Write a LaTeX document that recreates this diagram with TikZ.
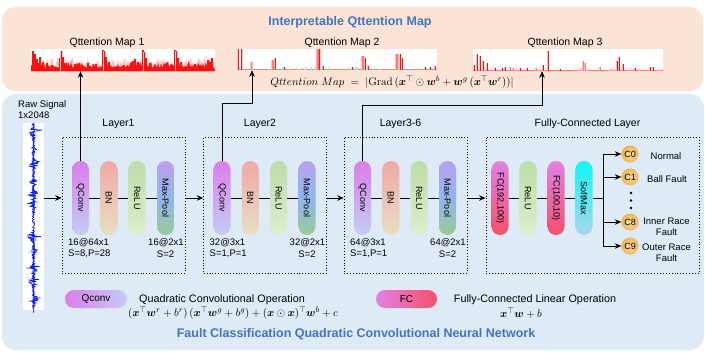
\documentclass[tikz,border=0pt]{standalone}
\usepackage[no-math]{fontspec}
\setmainfont{Liberation Sans}
\usepackage{amsmath,bm}
\usetikzlibrary{arrows.meta,shapes.misc}
\definecolor{orangebg}{HTML}{FBE4D5}
\definecolor{bluebg}{HTML}{DEEAF6}
\definecolor{titleblue}{HTML}{4472C4}
\definecolor{qtop}{HTML}{DA7EEA}
\definecolor{qbot}{HTML}{C6CCF6}
\definecolor{bntop}{HTML}{F0A8A6}
\definecolor{bnbot}{HTML}{E8DEC3}
\definecolor{rltop}{HTML}{BEDCA8}
\definecolor{rlbot}{HTML}{DFEDCC}
\definecolor{mptop}{HTML}{BB9FF0}
\definecolor{mpmid}{HTML}{8FB6EC}
\definecolor{mpbot}{HTML}{9ACB98}
\definecolor{fctop}{HTML}{DE82E4}
\definecolor{fcbot}{HTML}{F4506A}
\definecolor{smtop}{HTML}{12F6F6}
\definecolor{smbot}{HTML}{A8D6EE}
\definecolor{cin}{HTML}{FBE0A8}
\definecolor{cout}{HTML}{F0B454}
\definecolor{sigblue}{HTML}{0A1EF0}
\definecolor{mapred}{HTML}{FF1010}
\definecolor{mappink}{HTML}{FF7A7A}
\definecolor{mappale}{HTML}{FFC0C0}
\begin{document}
\begin{tikzpicture}[x=1pt,y=-1pt,font=\fontsize{9.5}{11}\selectfont,
  conn/.style={line width=0.9pt},
  arr/.style={line width=0.9pt,-{Stealth[length=6.5pt,width=5.5pt]}},
  pill/.style={rounded corners=8.5pt,minimum width=17pt,minimum height=74pt,inner sep=0pt},
  pilltext/.style={rotate=-90,font=\fontsize{9}{10}\selectfont},
  qcs/.style={pill,top color=qtop,bottom color=qbot},
  bns/.style={pill,top color=bntop,bottom color=bnbot},
  rls/.style={pill,top color=rltop,bottom color=rlbot},
  mps/.style={pill,top color=mptop,bottom color=mpbot,middle color=mpmid},
  fcs/.style={pill,top color=fctop,bottom color=fcbot},
  sms/.style={pill,top color=smtop,bottom color=smbot},
  layerbox/.style={draw,dotted,line width=0.9pt,inner sep=0pt,minimum height=136pt},
  maptitle/.style={font=\fontsize{10.5}{12}\selectfont},
  legtext/.style={font=\fontsize{10.8}{12}\selectfont,inner sep=1pt},
  mapbox/.style={fill=white,inner sep=0pt},
  circ/.style={circle,inner sep=0pt,minimum size=17pt,shading=radial,inner color=cin,outer color=cout,font=\fontsize{9}{10}\selectfont},
  bigtitle/.style={text=titleblue,font=\fontsize{12.5}{14}\selectfont\bfseries},
]
\useasboundingbox (0,0) rectangle (706,353);
% panels
\fill[orangebg,rounded corners=13pt] (2,7) rectangle (703,91);
\fill[bluebg,rounded corners=14pt] (2,94) rectangle (704,350);
\node[bigtitle] (t1) at (350,22) {Interpretable Qttention Map};
\node[bigtitle] (t2) at (356,334) {Fault Classification Quadratic Convolutional Neural Network};

% attention maps
\pgfmathsetseed{7}
\node[mapbox,minimum width=184pt,minimum height=22pt] (map1) at (123,60) {};
\node[mapbox,minimum width=200pt,minimum height=21pt] (map2) at (337,59.5) {};
\node[mapbox,minimum width=190pt,minimum height=22pt] (map3) at (568,60) {};
\node[maptitle] (m1t) at (107,43) {Qttention Map 1};
\node[maptitle] (m2t) at (342,43) {Qttention Map 2};
\node[maptitle] (m3t) at (565,43) {Qttention Map 3};
% map 1: dense band with bursts
\fill[mappale] (31,71) \foreach \i in {0,...,183}{ -- ({31+\i},{71-5-9*rnd^2}) } -- (215,71) -- cycle;
\fill[mapred] (31,71) \foreach \i in {0,...,183}{ -- ({31+\i},{71-3.5-6.5*rnd^2}) } -- (215,71) -- cycle;
\foreach \x/\h in {33/20,35/17,37/12,40/14,43/9,47/8,52/6,60/13,61.5/20,63/14,66/8,75/7,88/8,96/7,103/21,104.5/20,106/14,109/9,124/6,133/10,135/12,138/9,143/21,144.5/19,146/13,150/8,165/7,175/21,176.5/20,178/13,181/9,195/7,208/11,210/9,212/13}{
  \fill[mappale] (\x-1.1,71) rectangle ++(2.2,-\h);
  \fill[mapred] (\x-0.55,71) rectangle ++(1.1,-\h);}
% map 2
\fill[mappink] (237,70) rectangle (437,69);
\foreach \i in {1,...,40}{\pgfmathsetmacro\xx{239+196*rnd}\pgfmathsetmacro\hh{1+2*rnd}
  \fill[mappale] (\xx-0.5,70) rectangle ++(1,-\hh);}
\foreach \x in {261,309,333,382,427}
  \fill[gray!70] (\x-0.4,70) rectangle ++(0.8,-1.5);
\foreach \x/\h in {251.7/8,318/21,363/14,397/16,273/10}{
  \fill[mappale] (\x-1.6,70) rectangle ++(3.2,-\h);
  \fill[mappink] (\x-0.6,70) rectangle ++(1.2,-\h);}
\foreach \x/\h in {238/21,241.7/21,275/12,284/3,319.5/21,323/4,352/3,365/12,368/4,400/16,402/12,425/3,430/3,435/4}{
  \fill[mappale] (\x-1,70) rectangle ++(2,-\h);
  \fill[mapred] (\x-0.5,70) rectangle ++(1,-\h);}
% map 3
\fill[mappink] (473,71) rectangle (663,70);
\foreach \i in {1,...,50}{\pgfmathsetmacro\xx{475+186*rnd}\pgfmathsetmacro\hh{1+2.5*rnd}
  \fill[mappale] (\xx-0.5,71) rectangle ++(1,-\hh);}
\foreach \x/\h in {510/4,513/3,583/10,585/8,536/3,600/4}{
  \fill[mappale] (\x-1.2,71) rectangle ++(2.4,-\h);
  \fill[mappink] (\x-0.5,71) rectangle ++(1,-\h);}
\foreach \x/\h in {474/6,477/17,480/15,483/10,487/8,495/3,502/3,505/4,520/3,527/3,543/6,548/20,560/2,617/10,619/14,623/7,635/3,650/4,653/4}{
  \fill[mappale] (\x-1,71) rectangle ++(2,-\h);
  \fill[mapred] (\x-0.5,71) rectangle ++(1,-\h);}
\node[font=\fontsize{11.2}{13}\selectfont] (qf) at (392,82) {$Qttention~Map~=~|\mathrm{Grad}\,(\bm{x}^{\top}\odot\bm{w}^{b}+\bm{w}^{g}\,(\bm{x}^{\top}\bm{w}^{r}))|$};

% raw signal
\node[anchor=west,align=left,inner sep=0pt] (rawt) at (18,110) {Raw Signal\\1x2048};
\node[fill=white,minimum width=21pt,minimum height=187pt,inner sep=0pt] (sig) at (33.5,216.5) {};
\draw[sigblue,line width=0.5pt] (33.5,123) \foreach \i in {0,...,372}{ -- ({33.5+1.3*(2*rnd-1)},{123+\i/2}) };
\foreach \b/\a in {130/9,148/5,162/10,181/6,193/9,203/7,235/11,250/5,267/9,280/8,298/10}{
  \draw[sigblue,line width=0.5pt] (33.5,\b-5) \foreach \j in {0,...,40}{ -- ({33.5+\a*exp(-max(10-\j,0)/3-max(\j-10,0)/9)*(2*rnd-1)},{\b-5+\j/2}) };
}

% layers
\foreach \n/\x/\lab/\ka/\kb/\kc in {1/80.5/Layer1/16@64x1/{S=8,P=28}/16@2x1, 2/222/Layer2/32@3x1/{S=1,P=1}/32@2x1, 3/362.5/Layer3-6/64@3x1/{S=1,P=1}/64@2x1}{
  \node[layerbox,minimum width=123pt] (L\n) at (\x+43.2,205) {};
  \node[maptitle] (Lt\n) at (\x+38,124) {\lab};
  \node[qcs] (q\n) at (\x,198) {};
  \node[pilltext] at (q\n) {QConv};
  \node[bns] (b\n) at (\x+28.3,198) {};
  \node[pilltext] at (b\n) {BN};
  \node[rls] (r\n) at (\x+56.6,198) {};
  \node[pilltext] at (r\n) {ReLU};
  \node[mps] (m\n) at (\x+85,198) {};
  \node[pilltext] at (m\n) {Max-Pool};
  \node[anchor=west,inner sep=0pt] (la\n) at (\x-12.5,243) {\ka};
  \node[anchor=west,inner sep=0pt] (lb\n) at (\x-12.5,254) {\kb};
  \node[inner sep=0pt] (lc\n) at (\x+85.5,243) {\kc};
  \node[inner sep=0pt] (ld\n) at (\x+85,254) {S=2};
  \draw[conn] (q\n) -- (b\n) -- (r\n) -- (m\n);
}
% FC layer
\node[layerbox,minimum width=213pt] (LF) at (592.5,205) {};
\node[maptitle] (LFt) at (587.5,124) {Fully-Connected Layer};
\node[fcs] (f1) at (500,198) {};
\node[pilltext] at (f1) {FC(192,100)};
\node[rls] (fr) at (528,198) {};
\node[pilltext] at (fr) {ReLU};
\node[fcs] (f2) at (556,198) {};
\node[pilltext] at (f2) {FC(100,10)};
\node[sms] (sm) at (584,198) {};
\node[pilltext] at (sm) {SoftMax};
\draw[conn] (f1) -- (fr) -- (f2) -- (sm);

% connectors between blocks
\draw[arr] (sig.east |- q1) -- (L1.west |- q1);
\draw[arr] (L1.east |- q1) -- (L2.west |- q2);
\draw[arr] (L2.east |- q2) -- (L3.west |- q3);
\draw[arr] (L3.east |- q3) -- (LF.west |- f1);

% arrows to maps
\coordinate (k2) at (252,103);
\coordinate (k3) at (542,105);
\draw[arr] (q1.north) -- (q1.north |- map1.south);
\draw[arr] (q2.north) |- (k2) -- (k2 |- map2.south);
\draw[arr] (q3.north) |- (k3) -- (k3 |- map3.south);

% classes
\node[circ] (c0) at (630,154) {C0};
\node[circ] (c1) at (630,177) {C1};
\node[circ] (c8) at (630,222) {C8};
\node[circ] (c9) at (630,246) {C9};
\coordinate (br) at (603,198);
\draw[conn] (sm) -- (br);
\foreach \c in {c0,c1,c8,c9} \draw[arr] (br) |- (\c.west);
\fill (631,193) circle (1.3pt) (631,200.5) circle (1.3pt) (631,208) circle (1.3pt);
\node (n0) at (666,156) {Normal};
\node (n1) at (667,179) {Ball Fault};
\node[align=center,inner sep=0pt] (n8) at (666.5,227) {Inner Race\\Fault};
\node[align=center,inner sep=0pt] (n9) at (666.5,252.5) {Outer Race\\Fault};

% legend
\node[rounded corners=9pt,minimum width=62pt,minimum height=18pt,inner sep=0pt,left color=qtop,right color=qbot,font=\fontsize{10}{11}\selectfont] (lq) at (96,299) {Qconv};
\node[legtext] (lqt) at (222,299.5) {Quadratic Convolutional Operation};
\node[legtext] (lqf) at (233,313.5) {$(\bm{x}^{\top}\bm{w}^{r}+b^{r})\,(\bm{x}^{\top}\bm{w}^{g}+b^{g})+(\bm{x}\odot\bm{x})^{\top}\bm{w}^{b}+c$};
\node[rounded corners=9pt,minimum width=61pt,minimum height=18pt,inner sep=0pt,left color=fctop,right color=fcbot,font=\fontsize{10}{11}\selectfont] (lf) at (406.5,299) {FC};
\node[legtext] (lft) at (535,299.5) {Fully-Connected Linear Operation};
\node[legtext] (lff) at (521,313.5) {$\bm{x}^{\top}\bm{w}+b$};
\end{tikzpicture}
\end{document}
